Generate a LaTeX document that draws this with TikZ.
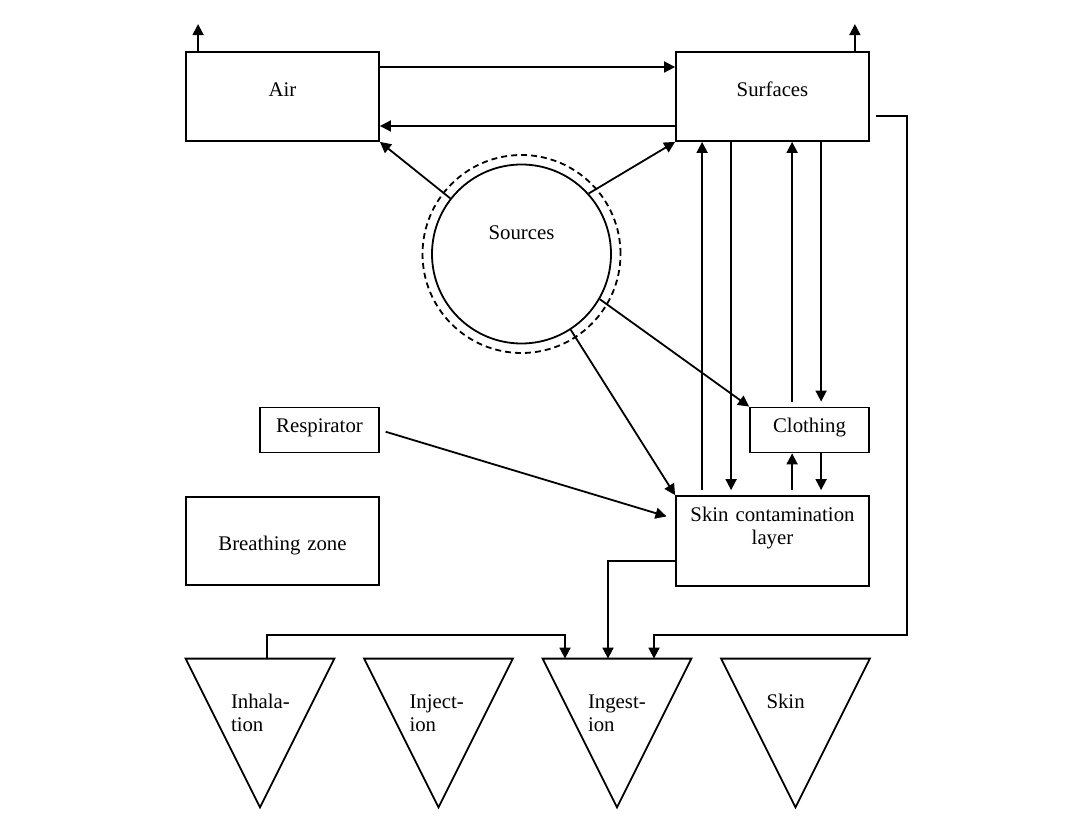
\documentclass[tikz,border=0pt]{standalone}
\usepackage{fontspec}
\setmainfont{Liberation Serif}
\usetikzlibrary{arrows.meta}

\tikzset{
  wire/.style={line width=0.9pt},
  arr/.style={wire, -{Triangle[length=5.5pt,width=5.5pt]}},
  box/.style n args={3}{wire, draw, inner sep=0pt, align=center,
    text width=#1, text height=#2, text depth={#3-#2}},
  tri/.style={inner xsep=22.5pt, inner ysep=0pt, text width=29pt,
    align=left, text height=24.5pt, text depth=49.5pt},
}

\begin{document}
\begin{tikzpicture}[x=0.5pt,y=-0.5pt,font={\fontsize{10.4pt}{11.5pt}\selectfont}]
\useasboundingbox (0,0) rectangle (1076,818);

% boxes
\node[box={96.5pt}{22.5pt}{44.5pt}] (air) at (282.5,96.5) {Air};
\node[box={96.5pt}{22.5pt}{44.5pt}] (surf) at (772.5,96.5) {Surfaces};
\node[box={59.5pt}{12.5pt}{22.5pt}] (resp) at (319.5,430) {Respirator};
\node[box={59.5pt}{12.5pt}{22.5pt}] (cloth) at (809.5,430) {Clothing};
\node[box={96.5pt}{26.5pt}{44pt}] (breath) at (282.5,541) {Breathing zone};
\node[box={96.5pt}{12.5pt}{45pt}] (skin) at (772.5,541) {Skin contamination\\layer};

% sources
\node[wire, draw, circle, minimum size=89.5pt, inner sep=0pt,
  text height=5pt, text depth=19pt] (src) at (521.5,254) {Sources};
\draw[wire, dash pattern=on 3pt off 2pt] (src) circle[radius=49.5pt];

% routes
\node[tri] (inh) at (260,733) {\mbox{Inhala-}\\tion};
\node[tri] (inj) at (438.5,733) {\mbox{Inject-}\\ion};
\node[tri] (ing) at (617,733) {\mbox{Ingest-}\\ion};
\node[tri] (skn) at (795.5,733) {Skin};
\foreach \t in {inh,inj,ing,skn}
  \draw[wire] (\t.north west) -- (\t.north east) -- (\t.south) -- cycle;

% air and surfaces
\draw[arr] ([xshift=6.5pt]air.north west) -- ++(0,-27);
\draw[arr] ([xshift=-7.5pt]surf.north east) -- ++(0,-27);
\draw[arr] ([yshift=14.75pt]air.east) -- ([yshift=14.75pt]surf.west);
\draw[arr] ([yshift=-14.75pt]surf.west) -- ([yshift=-14.75pt]air.east);

% from sources
\draw[arr] (src.142) -- (air.south east);
\draw[arr] (src.42) -- (surf.south west);
\draw[arr] (src.-30) -- (cloth.north west);
\draw[arr] (src.-57) -- (skin.north west);
\draw[arr, shorten <=3pt, shorten >=4.5pt] (resp.east) -- ([yshift=11pt]skin.west);

% exchange with surfaces
\path ([xshift=13.5pt]surf.south west) coordinate (c1)
      ([xshift=28pt]surf.south west) coordinate (c2)
      ([xshift=58.5pt]surf.south west) coordinate (c3)
      ([xshift=73pt]surf.south west) coordinate (c4);
\draw[arr, shorten <=2.5pt] (c1 |- skin.north) -- (c1);
\draw[arr, shorten >=2.5pt] (c2) -- (c2 |- skin.north);
\draw[arr, shorten <=2.5pt] (c3 |- cloth.north) -- (c3);
\draw[arr, shorten >=2.5pt] (c4) -- (c4 |- cloth.north);
\draw[arr, shorten <=2.5pt] (c3 |- skin.north) -- (c3 |- cloth.south);
\draw[arr, shorten >=2.5pt] (c4 |- cloth.south) -- (c4 |- skin.north);

% to ingestion
\draw[arr, shorten <=3pt] ([yshift=-9.75pt]surf.east) -- ++(37,0)
  |- ([xshift=18.5pt,yshift=12pt]ing.north) -- ([xshift=18.5pt]ing.north);
\draw[arr] ([xshift=3.5pt]inh.north) -- ++(0,-24) -| ([xshift=-26pt]ing.north);
\draw[arr] ([yshift=-10pt]skin.west) -| ([xshift=-4.5pt]ing.north);
\end{tikzpicture}
\end{document}
